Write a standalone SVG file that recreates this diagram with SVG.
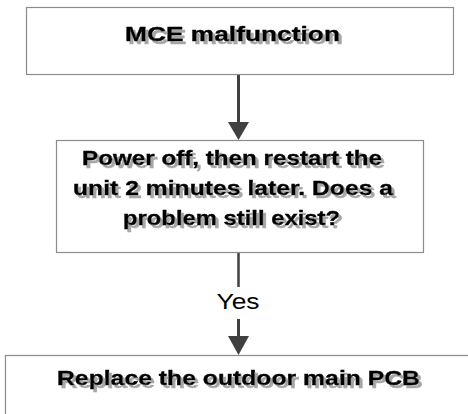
<svg xmlns="http://www.w3.org/2000/svg" width="468" height="414" viewBox="0 0 468 414">
<defs>
<filter id="shadow" x="-5%" y="-20%" width="110%" height="150%">
<feOffset in="SourceAlpha" dx="2.5" dy="2.5" result="off"/>
<feFlood flood-color="#a6a6a6"/>
<feComposite in2="off" operator="in" result="sh"/>
<feMerge><feMergeNode in="sh"/><feMergeNode in="SourceGraphic"/></feMerge>
</filter>
</defs>
<style>
.box{fill:#fff;stroke:#8c8c8c;stroke-width:1.2}
.t{font-family:"Liberation Sans",Arial,sans-serif;font-weight:bold;font-size:21px;text-anchor:middle;fill:#000;stroke:#000;stroke-width:0.4;filter:url(#shadow)}
.ln{stroke:#404040;fill:none}
.hd{fill:#404040}
.lbl{font-family:"Liberation Sans",Arial,sans-serif;font-size:22px;text-anchor:middle;fill:#000}
</style>
<rect width="468" height="414" fill="#fff"/>
<g id="connectors">
<line class="ln" x1="238.5" y1="75" x2="238.5" y2="124" stroke-width="3"/>
<polygon class="hd" points="228,122 249,122 238.5,140"/>
<line class="ln" x1="238.5" y1="249" x2="238.5" y2="287" stroke-width="2.5"/>
<text class="lbl" x="238" y="309" textLength="43" lengthAdjust="spacingAndGlyphs">Yes</text>
<line class="ln" x1="238.5" y1="319" x2="238.5" y2="338" stroke-width="3"/>
<polygon class="hd" points="228,336 249,336 238.5,355"/>
</g>
<g id="node1">
<rect class="box" x="26.5" y="7.5" width="427" height="67"/>
<text class="t" x="232.5" y="41" textLength="215" lengthAdjust="spacingAndGlyphs">MCE malfunction</text>
</g>
<g id="node2">
<rect class="box" x="56.5" y="140.5" width="367" height="112"/>
<text class="t" x="232" y="165" textLength="300" lengthAdjust="spacingAndGlyphs">Power off, then restart the</text>
<text class="t" x="233" y="195" textLength="320" lengthAdjust="spacingAndGlyphs">unit 2 minutes later. Does a</text>
<text class="t" x="231.5" y="225" textLength="217" lengthAdjust="spacingAndGlyphs">problem still exist?</text>
</g>
<g id="node3">
<rect class="box" x="5.5" y="355.5" width="470" height="70"/>
<text class="t" x="238.5" y="385" textLength="363" lengthAdjust="spacingAndGlyphs">Replace the outdoor main PCB</text>
</g>
</svg>
